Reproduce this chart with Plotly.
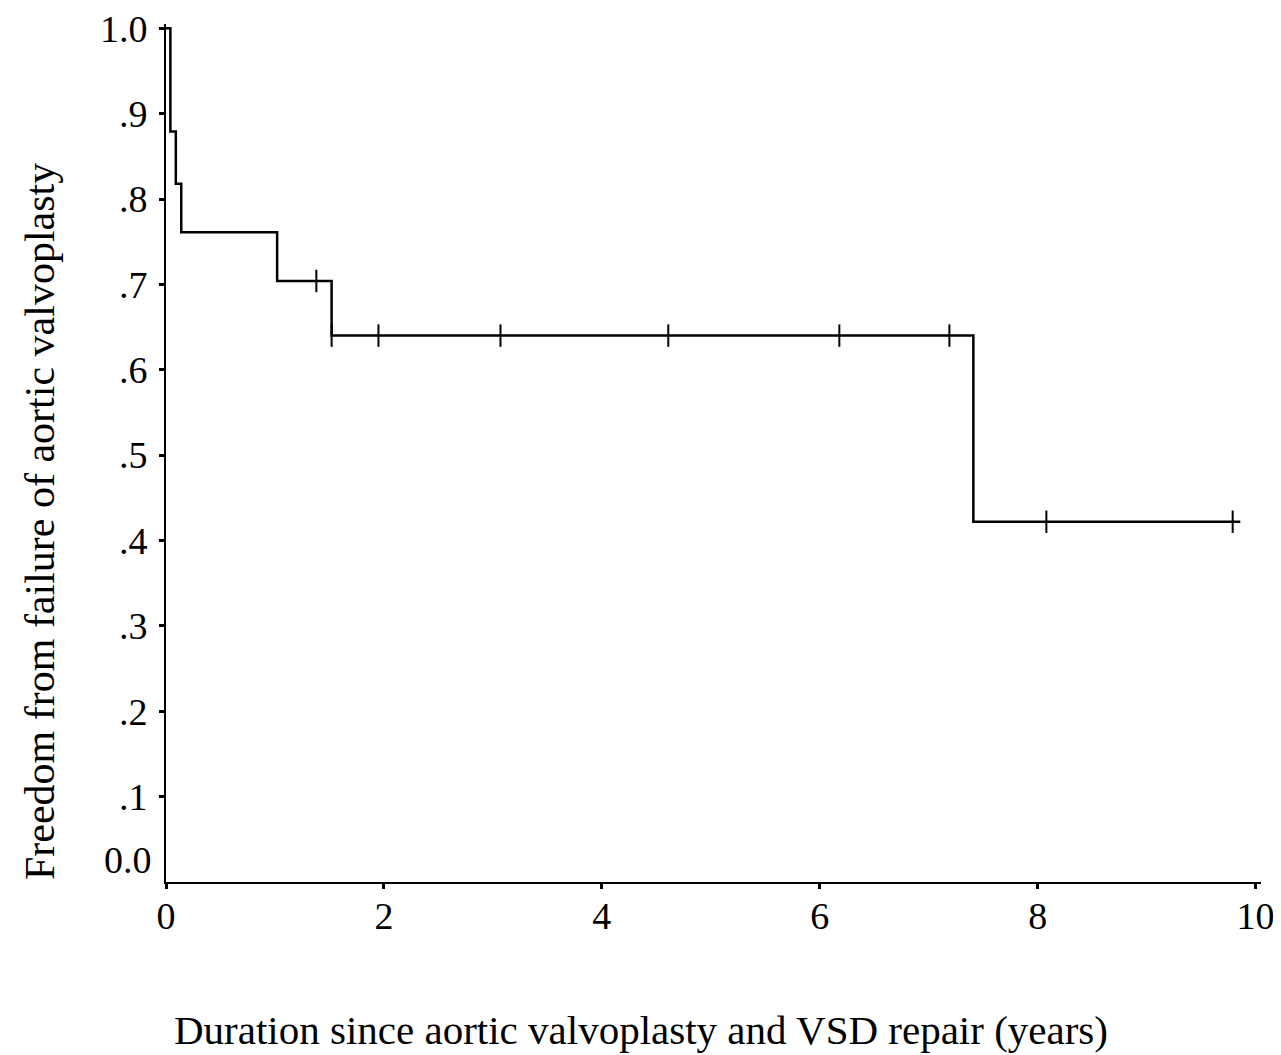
import plotly.graph_objects as go

# Kaplan-Meier step curve (years, survival)
step_times = [0.0, 0.04, 0.09, 0.14, 1.02, 1.52, 7.41, 9.86]
step_surv = [1.0, 0.879, 0.818, 0.761, 0.704, 0.640, 0.422, 0.422]

# censored observations
censor_times = [1.38, 1.52, 1.95, 3.07, 4.61, 6.18, 7.19, 8.08, 9.79]
censor_surv = [0.704, 0.640, 0.640, 0.640, 0.640, 0.640, 0.640, 0.422, 0.422]

x_tickvals = [0, 2, 4, 6, 8, 10]
x_ticktext = ["0", "2", "4", "6", "8", "10"]
y_tickvals = [0.1, 0.2, 0.3, 0.4, 0.5, 0.6, 0.7, 0.8, 0.9, 1.0]
y_ticktext = [".1", ".2", ".3", ".4", ".5", ".6", ".7", ".8", ".9", "1.0"]

FONT = "Liberation Serif"
OFF = 8  # default page body margin
W, H = 1281 - OFF, 1055 - OFF
L, T, B = 166 - OFF, 24 - OFF, 173
R = W - (1261.5 - OFF)
plot_w = W - L - R
plot_h = H - T - B


def px_to_paper(px, py):
    px -= OFF
    py -= OFF
    return (px - L) / plot_w, (H - B - py) / plot_h


fig = go.Figure()
fig.add_trace(go.Scatter(
    x=step_times, y=step_surv, mode="lines",
    line=dict(color="black", width=2.5, shape="hv"),
    showlegend=False, hoverinfo="skip",
))
fig.add_trace(go.Scatter(
    x=censor_times, y=censor_surv, mode="markers",
    marker=dict(symbol="line-ns-open", size=16, color="black",
                line=dict(color="black", width=2)),
    showlegend=False, hoverinfo="skip", cliponaxis=False,
))

yx, yy = px_to_paper(40, 522)
xx, xy = px_to_paper(641, 1030)
zx, zy = px_to_paper(128, 860)

fig.update_layout(
    width=W, height=H,
    margin=dict(l=L, r=R, t=T, b=B, autoexpand=False),
    paper_bgcolor="white", plot_bgcolor="white",
    font=dict(family=FONT, size=38, color="black"),
    xaxis=dict(
        range=[0, 10.05], tickvals=x_tickvals, ticktext=x_ticktext,
        showline=True, linecolor="black", linewidth=2,
        ticks="outside", ticklen=5, tickwidth=3, tickcolor="black",
        showgrid=False, zeroline=False, automargin=False, ticklabelstandoff=-6,
        ticklabeloverflow="allow",
        tickfont=dict(family=FONT, size=38),
    ),
    yaxis=dict(
        range=[0, 1.005], tickvals=y_tickvals, ticktext=y_ticktext,
        showline=True, linecolor="black", linewidth=2,
        ticks="outside", ticklen=5, tickwidth=3, tickcolor="black",
        showgrid=False, zeroline=False, automargin=False, ticklabelstandoff=4,
        ticklabeloverflow="allow",
        tickfont=dict(family=FONT, size=38),
    ),
    annotations=[
        dict(text="0.0", x=zx, y=zy, xref="paper", yref="paper",
             xanchor="center", yanchor="middle", showarrow=False,
             font=dict(family=FONT, size=38)),
        dict(text="Freedom from failure of aortic valvoplasty", x=yx, y=yy,
             xref="paper", yref="paper", xanchor="center", yanchor="middle",
             showarrow=False, textangle=-90, font=dict(family=FONT, size=42)),
        dict(text="Duration since aortic valvoplasty and VSD repair (years)",
             x=xx, y=xy, xref="paper", yref="paper", xanchor="center", yanchor="middle",
             showarrow=False, font=dict(family=FONT, size=41)),
    ],
)

fig.write_html("out.html")
